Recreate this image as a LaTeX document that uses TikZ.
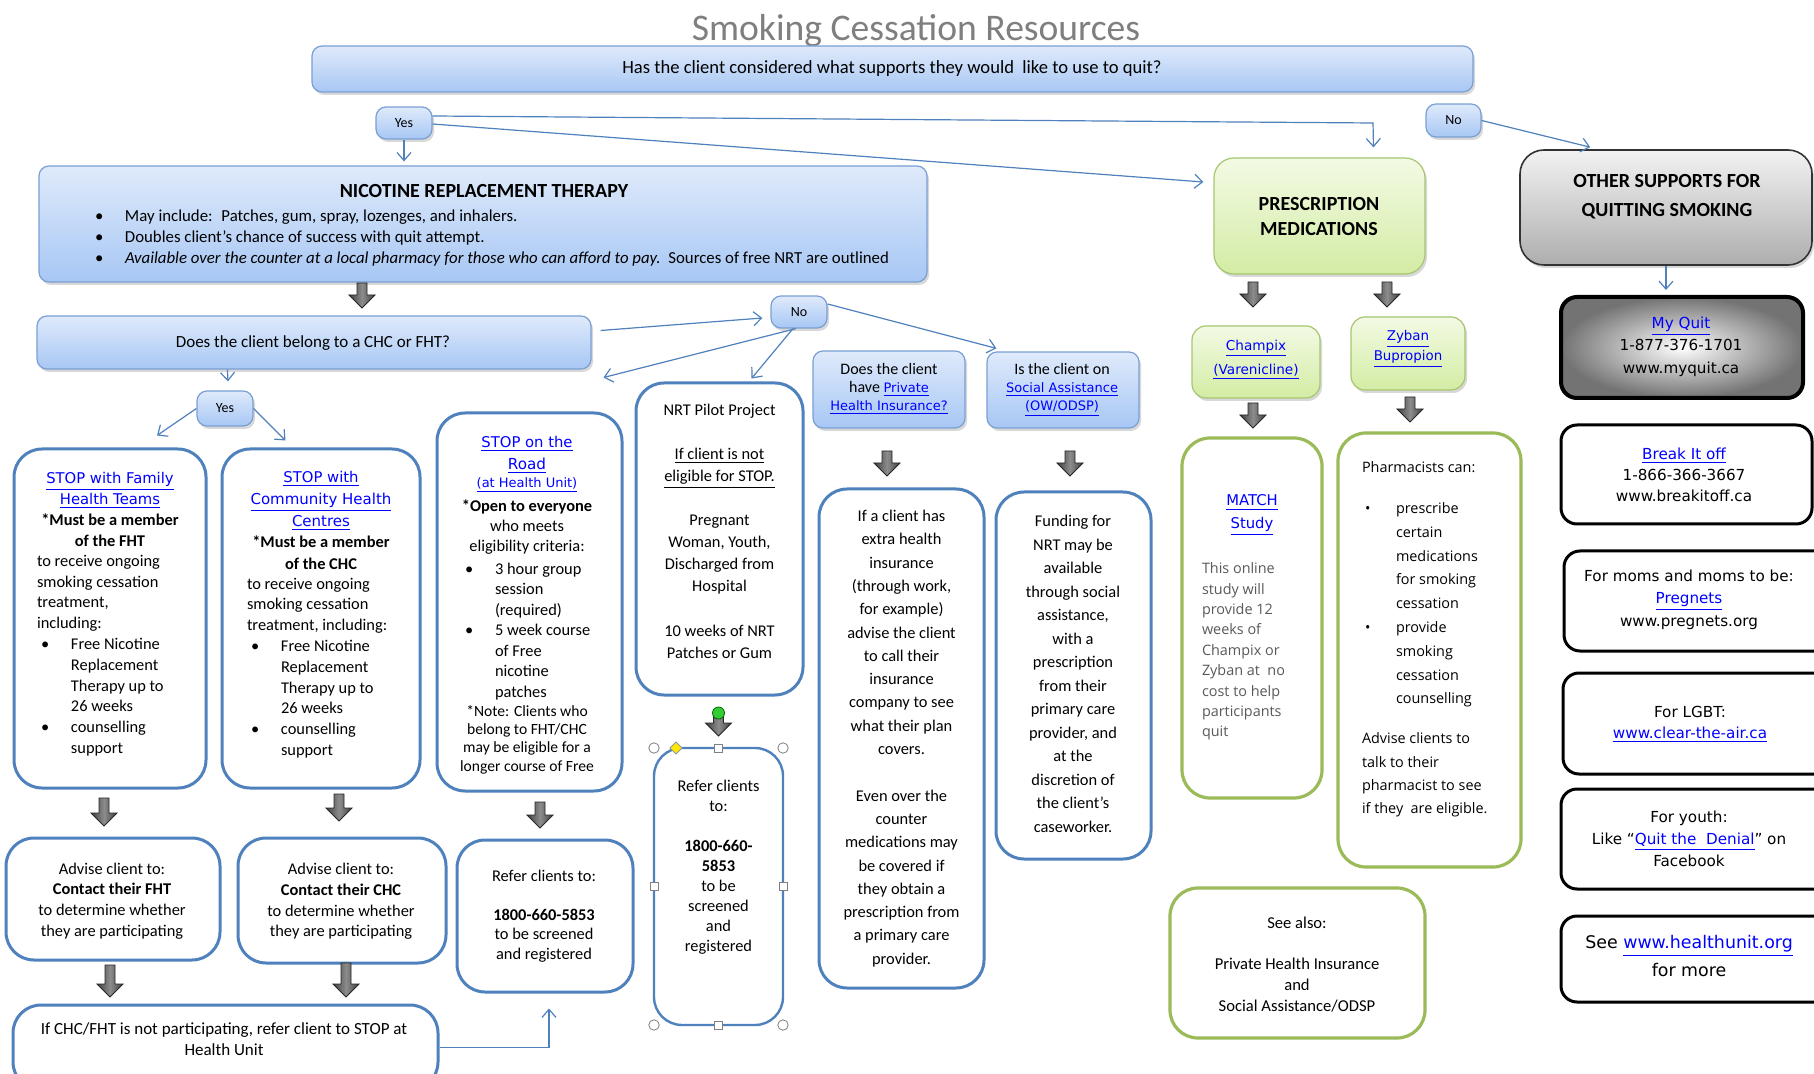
\documentclass[tikz,border=0pt]{standalone}
\usepackage{fontspec}
\setmainfont{Carlito}
\newfontfamily\dvs{DejaVu Sans}
\newfontfamily\opsans{Open Sans}
\usetikzlibrary{fit,shadows,arrows.meta,calc}
\definecolor{linkblue}{HTML}{0000FF}
\definecolor{bblue}{HTML}{4F81BD}
\definecolor{ggreen}{HTML}{9BBB59}
\definecolor{gtop}{HTML}{DFEAFB}
\definecolor{gbot}{HTML}{A7C7F4}
\definecolor{gbord}{HTML}{7A9FD3}
\definecolor{grtop}{HTML}{F3FAE4}
\definecolor{grbot}{HTML}{D3ECA4}
\definecolor{grbord}{HTML}{A6C66E}
\definecolor{titlegray}{HTML}{7F7F7F}
\definecolor{txtgray}{HTML}{595959}
\newcommand{\fsz}[2]{\fontsize{#1}{#2}\selectfont}
\newcommand{\lkv}[1]{\textcolor{linkblue}{\underline{#1}}}
\newcommand{\lk}[2]{{\dvs\fontsize{#1}{12}\selectfont\lkv{#2}}}
\newcommand{\bul}{\hspace*{2pt}\makebox[15pt][l]{\textbullet}}
\newcommand{\hind}{\hspace*{17pt}}
\newcommand{\rbox}[6]{\node[#1, fit={(#3,#4) (#5,#6)}] (#2) {};}
\newcommand{\blk}[3]{\draw[blkarrow] (#1-5,#2) -- (#1+5,#2) -- (#1+5,#3-13) -- (#1+13,#3-13) -- (#1,#3) -- (#1-13,#3-13) -- (#1-5,#3-13) -- cycle;}
\tikzset{
  txt/.style={inner sep=0pt, outer sep=0pt},
  shad/.style={drop shadow={shadow xshift=1pt, shadow yshift=-1.5pt, opacity=0.3}},
  gradbox/.style={draw=gbord, line width=0.6pt, rounded corners=5pt, top color=gtop, bottom color=gbot, shad, inner sep=0pt},
  bluebox/.style={draw=bblue, line width=1.5pt, rounded corners=14pt, fill=white, inner sep=0pt},
  greenbox/.style={draw=ggreen, line width=1.6pt, rounded corners=14pt, fill=white, inner sep=0pt},
  greengrad/.style={draw=grbord, line width=0.6pt, rounded corners=7pt, top color=grtop, bottom color=grbot, shad, inner sep=0pt},
  graygrad/.style={draw=black!80, line width=0.8pt, rounded corners=12pt, top color=black!5, bottom color=black!32, shad, inner sep=0pt},
  blackbox/.style={draw=black, line width=1.5pt, rounded corners=8pt, fill=white, inner sep=0pt},
  thinarr/.style={draw=bblue, line width=0.6pt, -{Straight Barb[length=4pt,width=7pt]}},
  blkarrow/.style={draw=black!85, line width=0.4pt, left color=black!75, right color=black!75, middle color=black!45},
  handle/.style={draw=black!50, fill=white, line width=0.4pt}
}
\begin{document}
\begin{tikzpicture}[x=0.5pt,y=-0.5pt]
\useasboundingbox (0,0) rectangle (1814,1074);
\fill[white] (0,0) rectangle (1814,1074);
\clip (0,0) rectangle (1814,1074);

\node[txt, font=\fsz{18.8}{22}, text=titlegray] (title) at (916,31) {Smoking Cessation Resources};

% ---------- top ----------
\rbox{gradbox}{hdr}{312}{46}{1473}{92}
\node[txt, font=\fsz{9.3}{11}] (hdrT) at (892,69) {Has the client considered what supports they would~ like to use to quit?};
\rbox{gradbox}{yes1}{376}{107}{432}{139}
\node[txt, font=\fsz{7}{8}] (yes1T) at (yes1) {Yes};
\rbox{gradbox}{no1}{1426}{104}{1481}{137}
\node[txt, font=\fsz{7}{8}] (no1T) at (no1) {No};

% NRT
\rbox{gradbox}{nrt}{39}{166}{927}{282}
\node[txt, font=\bfseries\fsz{10}{12}] (nrtT) at (484,191) {NICOTINE REPLACEMENT THERAPY};
\node[txt, anchor=west, align=left, font=\fsz{8.4}{10.5}] (nrtB) at (95,238) {\makebox[15pt][l]{\textbullet}May include:~ Patches, gum, spray, lozenges, and inhalers.\\\makebox[15pt][l]{\textbullet}Doubles client’s chance of success with quit attempt.\\\makebox[15pt][l]{\textbullet}\textit{Available over the counter at a local pharmacy for those who can afford to pay.}~~Sources of free NRT are outlined};

% Prescription / Other
\rbox{greengrad, rounded corners=10pt}{presc}{1214}{158}{1425}{274}
\node[txt, align=center, font=\bfseries\fsz{10}{12.5}] (prescT) at (1319,216.5) {PRESCRIPTION\\MEDICATIONS};
\rbox{graygrad}{other}{1520}{150}{1812}{265}
\node[txt, align=center, font=\bfseries\fsz{10}{14.5}] (otherT) at (1667,196.5) {OTHER SUPPORTS FOR\\QUITTING SMOKING};

% Does client belong
\rbox{gradbox}{does}{37}{316}{591}{369}
\node[txt, font=\fsz{8.5}{10}] (doesT) at (313,343) {Does the client belong to a CHC or FHT?};
\rbox{gradbox}{no2}{771}{296}{827}{328}
\node[txt, font=\fsz{7}{8}] (no2T) at (no2) {No};
\rbox{gradbox}{yes2}{197}{391}{253}{426}
\node[txt, font=\fsz{7}{8}] (yes2T) at (yes2) {Yes};

% Private / Social
\rbox{gradbox}{priv}{813}{351}{965}{428}
\node[txt, align=center, font=\fsz{8}{9}] (privT) at (889,389) {Does the client\\have \lk{6.5}{Private}\\\lk{6.5}{Health Insurance?}};
\rbox{gradbox}{soc}{987}{352}{1139}{428}
\node[txt, align=center, font=\fsz{8}{9}] (socT) at (1062,390) {Is the client on\\\lk{6.5}{Social Assistance}\\\lk{6.5}{(OW/ODSP)}};

% Champix / Zyban
\rbox{greengrad}{champ}{1192}{326}{1320}{398}
\node[txt, align=center, font=\fsz{8}{12}] (champT) at (1256,360) {\lk{6.8}{Champix}\\\lk{6.8}{(Varenicline)}};
\rbox{greengrad}{zyb}{1351}{317}{1465}{390}
\node[txt, align=center, font=\fsz{8}{10}] (zybT) at (1408,349) {\lk{6.7}{Zyban}\\\lk{6.7}{Bupropion}};

% ---------- STOP boxes ----------
\rbox{bluebox}{fht}{14}{449}{206}{788}
\node[txt, align=center, font=\fsz{8.2}{10.5}] (fhtT) at (110,509.5) {\lk{7.4}{STOP with Family}\\\lk{7.4}{Health Teams}\\\textbf{*Must be a member}\\\textbf{of the FHT}};
\node[txt, anchor=west, align=left, font=\fsz{8.2}{10.4}] (fhtB) at (37,655.5) {to receive ongoing\\smoking cessation\\treatment,\\including:\\\bul Free Nicotine\\\hind Replacement\\\hind Therapy up to\\\hind 26 weeks\\\bul counselling\\\hind support};

\rbox{bluebox}{chc}{222}{449}{420}{788}
\node[txt, align=center, font=\fsz{8.2}{10.9}] (chcT) at (321,520.5) {\lk{7.4}{STOP with}\\\lk{7.5}{Community Health}\\\lk{7.5}{Centres}\\\textbf{*Must be a member}\\\textbf{of the CHC}};
\node[txt, anchor=west, align=left, font=\fsz{8.2}{10.4}] (chcB) at (247,668) {to receive ongoing\\smoking cessation\\treatment, including:\\\bul Free Nicotine\\\hind Replacement\\\hind Therapy up to\\\hind 26 weeks\\\bul counselling\\\hind support};

\rbox{bluebox}{road}{437}{413}{622}{791}
\node[txt, align=center, font=\fsz{8.2}{11}] (roadT) at (527,455) {\lk{7.4}{STOP on the}\\\lk{7.6}{Road}};
\node[txt, font=\fsz{8}{9}] (roadU) at (527,485) {\lk{6.5}{(at Health Unit)}};
\node[txt, align=center, font=\fsz{8.2}{10}] (roadC) at (527,527) {\textbf{*Open to everyone}\\who meets\\eligibility criteria:};
\node[txt, anchor=west, align=left, font=\fsz{8.2}{10.25}] (roadB) at (461,631.5) {\bul 3 hour group\\\hind session\\\hind (required)\\\bul 5 week course\\\hind of Free\\\hind nicotine\\\hind patches};
\node[txt, align=center, font=\fsz{7.8}{9.15}] (roadN) at (527,739.5) {*Note: Clients who\\belong to FHT/CHC\\may be eligible for a\\longer course of Free};

\rbox{bluebox}{pilot}{636}{383}{803}{695}
\node[txt, align=center, font=\fsz{8.2}{11.05}] (pilotT) at (719.5,531) {NRT Pilot Project\\\mbox{}\\\underline{If client is not}\\\underline{eligible for STOP.}\\\mbox{}\\Pregnant\\Woman, Youth,\\Discharged from\\Hospital\\\mbox{}\\10 weeks of NRT\\Patches or Gum};

\rbox{bluebox}{ins}{819}{489}{984}{988}
\node[txt, align=center, font=\fsz{8.2}{11.65}] (insT) at (901.5,738.5) {If a client has\\extra health\\insurance\\(through work,\\for example)\\advise the client\\to call their\\insurance\\company to see\\what their plan\\covers.\\\mbox{}\\Even over the\\counter\\medications may\\be covered if\\they obtain a\\prescription from\\a primary care\\provider.};

\rbox{bluebox}{fund}{996}{492}{1151}{859}
\node[txt, align=center, font=\fsz{8.2}{11.75}] (fundT) at (1073,674) {Funding for\\NRT may be\\available\\through social\\assistance,\\with a\\prescription\\from their\\primary care\\provider, and\\at the\\discretion of\\the client’s\\caseworker.};

% green boxes
\rbox{greenbox}{match}{1182}{438}{1322}{798}
\node[txt, align=center, font=\fsz{8}{11.5}] (matchT) at (1252,515.5) {\lk{7.4}{MATCH}\\\lk{7.4}{Study}};
\node[txt, anchor=west, align=left, font=\opsans\fsz{7.2}{10.2}, text=txtgray] (matchB) at (1202,651.5) {This online\\study will\\provide 12\\weeks of\\Champix or\\Zyban at~~no\\cost to help\\participants\\quit};

\rbox{greenbox}{pharm}{1338}{433}{1521}{867}
\node[txt, anchor=west, font=\opsans\fsz{7.2}{10}] (pharmA) at (1362,467) {Pharmacists can:};
\node[txt, anchor=west, align=left, font=\opsans\fsz{7.2}{11.9}] (pharmB) at (1362,605) {\hspace*{1.5pt}\makebox[15.5pt][l]{\textbullet}prescribe\\\hind certain\\\hind medications\\\hind for smoking\\\hind cessation\\\hspace*{1.5pt}\makebox[15.5pt][l]{\textbullet}provide\\\hind smoking\\\hind cessation\\\hind counselling};
\node[txt, anchor=west, align=left, font=\opsans\fsz{7.2}{11.65}] (pharmC) at (1362,775) {Advise clients to\\talk to their\\pharmacist to see\\if they~ are eligible.};

\rbox{greenbox}{seealso}{1170}{888}{1425}{1038}
\node[txt, align=center, font=\fsz{8.3}{10.4}] (seeT) at (1297,964.5) {See also:\\\mbox{}\\Private Health Insurance\\and\\Social Assistance/ODSP};

% ---------- bottom left ----------
\rbox{bluebox}{advf}{6}{838}{220}{960}
\node[txt, align=center, font=\fsz{8.2}{10.35}] (advfT) at (112,901) {Advise client to:\\\textbf{Contact their FHT}\\to determine whether\\they are participating};
\rbox{bluebox}{advc}{238}{838}{446}{963}
\node[txt, align=center, font=\fsz{8.2}{10.35}] (advcT) at (341,901.5) {Advise client to:\\\textbf{Contact their CHC}\\to determine whether\\they are participating};
\rbox{bluebox}{ref1}{457}{840}{633}{992}
\node[txt, align=center, font=\fsz{8.2}{9.75}] (ref1T) at (544,916) {Refer clients to:\\\mbox{}\\\textbf{1800-660-5853}\\to be screened\\and registered};
\rbox{bluebox}{bot}{13}{1005}{438}{1090}
\node[txt, align=center, font=\fsz{8.5}{10.5}] (botT) at (224,1039.5) {If CHC/FHT is not participating, refer client to STOP at\\Health Unit};

\rbox{bluebox, line width=1.2pt}{refer2}{654}{748}{783}{1025}
\node[txt, align=center, font=\fsz{8.2}{10}] (refer2T) at (718.5,867) {Refer clients\\to:\\\mbox{}\\\textbf{1800-660-}\\\textbf{5853}\\to be\\screened\\and\\registered};

% ---------- right column ----------
\rbox{blackbox, line width=2pt, inner color=white, outer color=black!55}{myquit}{1561}{297}{1803}{398}
\node[txt, align=center, font=\dvs\fsz{7.6}{11.25}] (myquitT) at (1681,346.5) {\lkv{My Quit}\\1-877-376-1701\\www.myquit.ca};
\rbox{blackbox}{brk}{1561}{425}{1812}{524}
\node[txt, align=center, font=\dvs\fsz{7.6}{10.5}] (brkT) at (1684,475) {\lkv{Break It off}\\1-866-366-3667\\www.breakitoff.ca};
\rbox{blackbox}{preg}{1564}{551}{1840}{651}
\node[txt, align=center, font=\dvs\fsz{7.6}{11.25}] (pregT) at (1689,599.5) {For moms and moms to be:\\\lkv{Pregnets}\\www.pregnets.org};
\rbox{blackbox}{lgbt}{1563}{673}{1840}{774}
\node[txt, align=center, font=\dvs\fsz{7.6}{10.5}] (lgbtT) at (1690,724.5) {For LGBT:\\\lkv{www.clear-the-air.ca}};
\rbox{blackbox}{youth}{1561}{789}{1840}{889}
\node[txt, align=center, font=\dvs\fsz{7.6}{11}] (youthT) at (1689,839) {For youth:\\Like “\lkv{Quit the~ Denial}” on\\Facebook};
\rbox{blackbox}{hu}{1561}{916}{1840}{1002}
\node[txt, align=center, font=\dvs\fsz{8.7}{14}] (huT) at (1689,956) {See \lkv{www.healthunit.org}\\for more};

% ---------- thin connectors ----------
\draw[thinarr] ($(yes1.east)+(0,-7)$) -- (1373,123) -- ($(presc.north)+(54,-10)$);
\draw[thinarr] ($(yes1.east)+(0,1)$) -- ($(presc.west)+(-10,-34)$);
\draw[thinarr] (yes1.south) -- ($(yes1.south |- nrt.north)+(0,-4)$);
\draw[thinarr] (no1.east) -- ($(other.north west)+(71,-2)$);
\draw[thinarr] (other.south) -- ($(other.south |- myquit.north)+(0,-5)$);
\draw[thinarr] ($(does.east)+(9,-12)$) -- ($(no2.west)+(-8,6)$);
\draw[thinarr] ($(no2.south)+(-3,0)$) -- ($(road.north east)+(-20,-34)$);
\draw[thinarr] ($(no2.south)+(-6,0)$) -- ($(pilot.north)+(32,-3)$);
\draw[thinarr] ($(no2.east)+(0,-8)$) -- ($(soc.north west)+(10,-3)$);
\draw[thinarr] ($(does.south west)+(191,0)$) -- ($(yes2.north)+(3,-9)$);
\draw[thinarr] (yes2.west) -- ($(fht.north)+(47,-12)$);
\draw[thinarr] (yes2.east) -- ($(chc.north west)+(65,-7)$);
\draw[thinarr] (bot.east) -| ($(ref1.south)+(4,15)$);

% ---------- block arrows ----------
\blk{362}{283}{308}
\blk{104}{798}{826}
\blk{339}{794}{821}
\blk{540}{802}{828}
\blk{718.5}{710}{736}
\blk{887}{451}{476}
\blk{1070}{451}{476}
\blk{1253}{282}{307}
\blk{1387}{282}{307}
\blk{1253}{403}{428}
\blk{1410}{397}{422}
\blk{110}{965}{997}
\blk{346}{963}{997}

% ---------- selection handles ----------
\foreach \p in {(654,748),(783,748),(654,1025),(783,1025)} \draw[handle] \p circle[radius=2.6pt];
\foreach \p in {(718.5,748),(718.5,1025),(654,886.5),(783,886.5)} \draw[handle] \p ++(-4,-4) rectangle ++(8,8);
\draw[fill=yellow!90!orange, draw=black!40, line width=0.4pt] (676,742) -- (682,748) -- (676,754) -- (670,748) -- cycle;
\draw[fill=green!75!black!80, draw=green!40!black, line width=0.4pt] (718.5,713) circle[radius=3pt];
\end{tikzpicture}
\end{document}
